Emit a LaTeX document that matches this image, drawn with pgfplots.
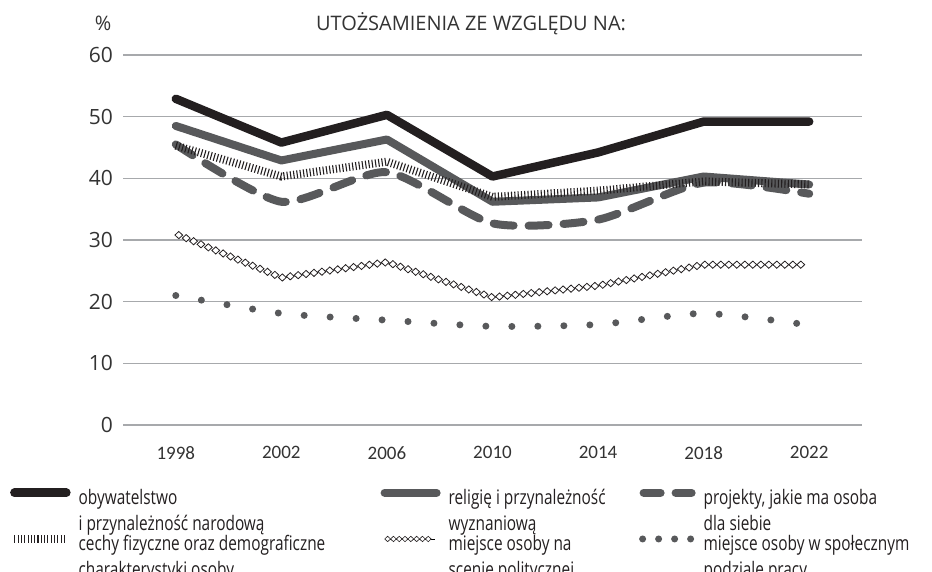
\documentclass[border=0pt]{standalone}
\usepackage{fontspec}
\setmainfont{Open Sans}
\newfontfamily\legfont[FakeStretch=0.77]{Open Sans}
\newfontfamily\tickfont{Carlito}
\usepackage{pgfplots}
\pgfplotsset{compat=1.18}
\usetikzlibrary{decorations.markings}
\definecolor{cblack}{HTML}{231F20}
\definecolor{cgray}{HTML}{58595B}
\definecolor{cgrid}{HTML}{A7A9AC}
\definecolor{ctext}{HTML}{333333}
\tikzset{diamark/.pic={\draw[cblack, fill=white, line width=0.8pt, solid] (-3.9pt,0pt)--(0pt,3.6pt)--(3.9pt,0pt)--(0pt,-3.6pt)--cycle;},
  diamarksmall/.pic={\draw[cblack, fill=white, line width=0.6pt, solid] (-2.9pt,0pt)--(0pt,2.7pt)--(2.9pt,0pt)--(0pt,-2.7pt)--cycle;}}
\pgfplotsset{
  dashleg/.style={legend image code/.code={\path (0pt,0pt); \draw[##1, dash pattern=on 17pt off 15pt] (4pt,12pt) -- (52pt,12pt);}},
  dotleg/.style={legend image code/.code={\path (0pt,0pt); \draw[##1, dash pattern=on 0pt off 16pt] (3pt,12pt) -- (52pt,12pt);}},
  diamleg/.style={legend image code/.code={\path (0pt,0pt); \path[postaction={decorate}, decoration={markings, mark=between positions 0.06 and 0.95 step 5.8pt with {\pic {diamarksmall};}}] (0pt,12pt) -- (50pt,12pt);}},
}
\begin{document}
\begin{tikzpicture}
\path[use as bounding box] (0pt,0pt) rectangle (932pt,571pt);
\begin{axis}[
  at={(123pt,146pt)}, anchor=south west,
  scale only axis, width=739pt, height=370pt,
  xmin=-0.5, xmax=6.5, ymin=0, ymax=60,
  xtick={0,...,6}, xticklabels={1998,2002,2006,2010,2014,2018,2022},
  ytick={0,10,...,60},
  ymajorgrids, grid style={cgrid, line width=1.3pt},
  axis line style={draw=none},
  major tick length=0.1pt, tick style={draw=none},
  /pgf/number format/assume math mode=true,
  yticklabel style={font=\fontsize{21}{25}\selectfont, text=ctext, anchor=east, inner sep=0pt, xshift=-10pt},
  xticklabel style={font=\tickfont\fontsize{19}{22}\selectfont, text=ctext, anchor=north, inner sep=0pt, yshift=-21pt},
  clip=false,
  legend columns=3,
  legend style={draw=none, fill=none, inner sep=0pt, at={(-0.153,-0.171)}, anchor=north west,
    cells={anchor=base west},
    nodes={inner sep=0pt, font=\legfont\fontsize{20}{26}\selectfont, text=cblack},
    /tikz/every odd column/.style={column sep=8pt},
    /tikz/every even column/.style={column sep=10pt},
    /tikz/column 3/.style={column sep=-13pt},
    /tikz/column 5/.style={column sep=-8pt},
    row sep=26pt},
  legend image code/.code={\path (0pt,0pt); \draw[#1] (0pt,12pt) -- (52pt,12pt);},
]
\addplot[cblack, line width=8.5pt, line join=round, line cap=round]
  coordinates {(0,52.9) (1,45.8) (2,50.3) (3,40.3) (4,44.2) (5,49.2) (6,49.2)};
\addlegendentry{\parbox[t]{292pt}{\raggedright obywatelstwo\\i przynależność narodową}}
\addplot[cgray, line width=8pt, line join=round, line cap=round]
  coordinates {(0,48.5) (1,42.9) (2,46.3) (3,36.2) (4,36.9) (5,40.3) (6,39.0)};
\addlegendentry{\parbox[t]{177pt}{\raggedright religię i przynależność\\wyznaniową}}
\addplot[cgray, line width=8pt, line cap=round, dash pattern=on 20pt off 15pt, smooth, tension=0.4, dashleg]
  coordinates {(0,45.5) (1,36.2) (2,41.0) (3,32.7) (4,33.3) (5,39.3) (6,37.5)};
\addlegendentry{\parbox[t]{230pt}{\raggedright projekty, jakie ma osoba\\dla siebie}}
\addplot[cblack, line width=8pt, dash pattern=on 1.1pt off 2.2pt]
  coordinates {(0,45.3) (1,40.3) (2,42.7) (3,37.0) (4,38.0) (5,39.5) (6,39.0)};
\addlegendentry{\parbox[t]{292pt}{\raggedright cechy fizyczne oraz demograficzne\\charakterystyki osoby}}
\addlegendimage{diamleg}
\addlegendentry{\parbox[t]{177pt}{\raggedright miejsce osoby na\\scenie politycznej}}
\addplot[cgray, line width=7pt, line cap=round, dash pattern=on 0pt off 26pt, smooth, tension=0.4, dotleg]
  coordinates {(0,21.0) (1,18.1) (2,17.0) (3,16.0) (4,16.3) (5,18.1) (6,16.2)};
\addlegendentry{\parbox[t]{230pt}{\raggedright miejsce osoby w społecznym\\podziale pracy}}
\addplot[forget plot, draw=none, postaction={decorate},
  decoration={markings, mark=between positions 0.005 and 0.995 step 8pt with {\pic {diamark};}}]
  coordinates {(0,31.0) (1,23.9) (2,26.4) (3,20.7) (4,22.6) (5,26.0) (6,26.0)};
\node[anchor=base, font=\fontsize{20}{24}\selectfont, text=ctext, yshift=25pt] at (rel axis cs:0.471,1) {UTOŻSAMIENIA ZE WZGLĘDU NA:};
\node[anchor=base, font=\fontsize{20}{24}\selectfont, text=ctext, yshift=25pt, xshift=-20pt] at (rel axis cs:0,1) {\%};
\end{axis}
\end{tikzpicture}
\end{document}
